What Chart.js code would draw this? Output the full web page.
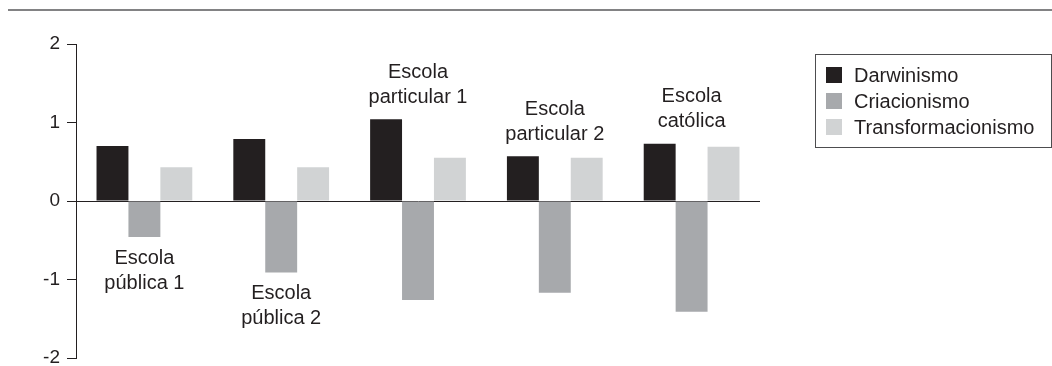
<!DOCTYPE html>
<html>
<head>
<meta charset="utf-8">
<script src="https://cdn.jsdelivr.net/npm/chart.js@4/dist/chart.umd.min.js"></script>
<style>
html,body{margin:0;padding:0;background:#fff;}
#wrap{width:1052px;height:366px;position:relative;}
</style>
</head>
<body>
<div id="wrap"><canvas id="c" width="1052" height="366"></canvas></div>
<script>
const categories = [
  ["Escola", "pública 1"],
  ["Escola", "pública 2"],
  ["Escola", "particular 1"],
  ["Escola", "particular 2"],
  ["Escola", "católica"]
];
const labelSide = ["below", "below", "above", "above", "above"];
const darwinismo = [0.70, 0.79, 1.04, 0.57, 0.73];
const criacionismo = [-0.46, -0.91, -1.26, -1.17, -1.41];
const transformacionismo = [0.43, 0.43, 0.55, 0.55, 0.69];
const seriesNames = ["Darwinismo", "Criacionismo", "Transformacionismo"];
const seriesColors = ["#231f20", "#a7a9ac", "#d1d3d4"];
const yTicks = [-2, -1, 0, 1, 2];

const FONT = "'Liberation Sans', Arial, Helvetica, sans-serif";
const INK = "#231f20";

const decorPlugin = {
  id: "decor",
  afterDatasetsDraw(chart) {
    const ctx = chart.ctx;
    const x = chart.scales.x, y = chart.scales.y;
    ctx.save();
    ctx.strokeStyle = "#58595b";
    ctx.lineWidth = 1.5;
    ctx.beginPath();
    ctx.moveTo(8, 10);
    ctx.lineTo(1052, 10);
    ctx.stroke();

    ctx.fillStyle = INK;
    ctx.font = "20px " + FONT;
    ctx.textAlign = "center";
    ctx.textBaseline = "middle";
    const sets = chart.data.datasets;
    categories.forEach((lines, i) => {
      const cx = x.getPixelForValue(i);
      const vals = sets.map(d => d.data[i]);
      if (labelSide[i] === "below") {
        const yb = y.getPixelForValue(Math.min(...vals));
        lines.forEach((t, k) => ctx.fillText(t, cx, yb + 21 + k * 25));
      } else {
        const yt = y.getPixelForValue(Math.max(...vals));
        const n = lines.length;
        lines.forEach((t, k) => ctx.fillText(t, cx, yt - 22 - (n - 1 - k) * 25));
      }
    });

    const bx = 815, by = 54, bw = 236, bh = 93;
    ctx.strokeStyle = "#4d4d4f";
    ctx.lineWidth = 1;
    ctx.strokeRect(bx + 0.5, by + 0.5, bw, bh);
    ctx.textAlign = "left";
    sets.forEach((d, k) => {
      const cy = 75 + k * 26;
      ctx.fillStyle = d.backgroundColor;
      ctx.fillRect(826, cy - 8, 16, 16);
      ctx.fillStyle = INK;
      ctx.fillText(d.label, 854, cy + 1);
    });
    ctx.restore();
  }
};

new Chart(document.getElementById("c"), {
  type: "bar",
  data: {
    labels: categories.map(l => l.join(" ")),
    datasets: [
      { label: seriesNames[0], data: darwinismo, backgroundColor: seriesColors[0] },
      { label: seriesNames[1], data: criacionismo, backgroundColor: seriesColors[1] },
      { label: seriesNames[2], data: transformacionismo, backgroundColor: seriesColors[2] }
    ]
  },
  options: {
    responsive: false,
    animation: false,
    devicePixelRatio: 1,
    layout: { padding: { left: 0, right: 292, top: 44, bottom: 8 } },
    datasets: { bar: { categoryPercentage: 0.7, barPercentage: 1.0, borderWidth: 0 } },
    plugins: { legend: { display: false }, tooltip: { enabled: false } },
    scales: {
      x: { display: false },
      y: {
        min: -2, max: 2,
        afterFit(scale) { scale.width = 76; scale.paddingTop = 0; scale.paddingBottom = 0; },
        afterBuildTicks(scale) { scale.ticks = yTicks.map(v => ({ value: v })); },
        border: { display: true, color: INK, width: 1 },
        grid: {
          drawOnChartArea: true,
          drawTicks: true,
          tickLength: 9,
          tickColor: INK,
          color: c => (c.tick && c.tick.value === 0 ? INK : "rgba(0,0,0,0)"),
          lineWidth: 1
        },
        ticks: {
          color: INK,
          padding: 7,
          font: { family: FONT, size: 19 },
          callback: v => String(v)
        }
      }
    }
  },
  plugins: [decorPlugin]
});
</script>
</body>
</html>
